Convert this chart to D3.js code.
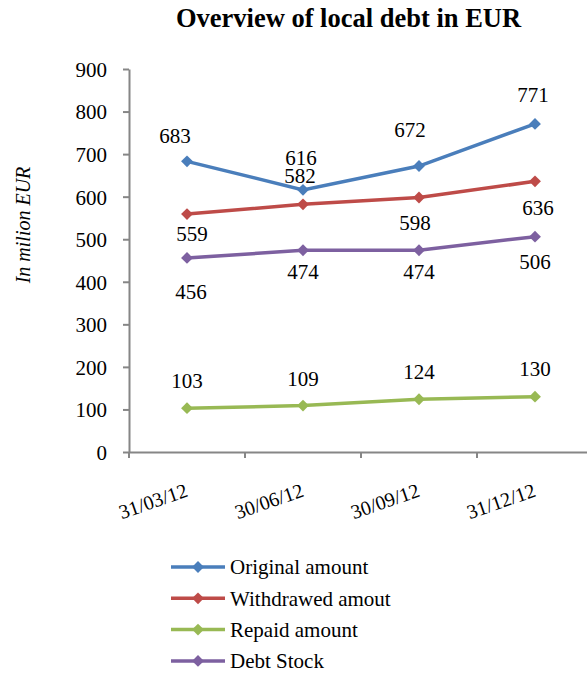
<!DOCTYPE html>
<meta charset="utf-8">
<style>
body { margin: 0; background: #fff; }
text { font-family: "Liberation Serif", "Times New Roman", serif; fill: #000; }
</style>
<body>
<script src="https://d3js.org/d3.v7.min.js"></script>
<script>

// chart data
var dates = ["31/03/12", "30/06/12", "30/09/12", "31/12/12"];
var seriesNames = ["Original amount", "Withdrawed amout", "Repaid amount", "Debt Stock"];
var original  = [683, 616, 672, 771];
var withdrawn = [559, 582, 598, 636];
var repaid    = [103, 109, 124, 130];
var debtStock = [456, 474, 474, 506];
var yTicks = [0, 100, 200, 300, 400, 500, 600, 700, 800, 900];

// where each value label sits relative to its point (px)
var labelDx = [
  [-12, -2, -9, -2],
  [5, -3, -4, 3],
  [0, 0, 0, 0],
  [4, 0, 0, 0]
];
var labelDy = [
  [-26, -32, -36, -29],
  [20, -29, 25, 26],
  [-28, -27, -28, -28],
  [34, 21, 21, 25]
];

var colors = ["#4A7EBB", "#BE4B48", "#98B954", "#7D60A0"];
var values = [original, withdrawn, repaid, debtStock];

var width = 587, height = 674;
var plotLeft = 129, plotRight = 593, plotTop = 69, plotBottom = 452;

var svg = d3.select("body").append("svg")
    .attr("width", width)
    .attr("height", height);

var x = d3.scaleBand()
    .domain(dates)
    .range([plotLeft, plotRight]);

var y = d3.scaleLinear()
    .domain([0, 900])
    .range([plotBottom, plotTop]);

/*
  Title
*/
svg.append("text")
    .attr("x", 348.5)
    .attr("y", 27)
    .attr("text-anchor", "middle")
    .style("font-size", "26.5px")
    .style("font-weight", "bold")
    .text("Overview of local debt in EUR");

/*
  Axes
*/
var yAxis = svg.append("g")
    .attr("transform", "translate(" + plotLeft + ",0)")
    .call(d3.axisLeft(y).tickValues(yTicks).tickSize(6).tickSizeOuter(0).tickPadding(16));

var xAxis = svg.append("g")
    .attr("transform", "translate(0," + plotBottom + ")")
    .call(d3.axisBottom(x).tickSize(0).tickSizeOuter(0).tickFormat(""));

[yAxis, xAxis].forEach(function(a) {
  a.select(".domain").attr("stroke", "#868686").attr("stroke-width", 2);
  a.selectAll(".tick line").attr("stroke", "#868686").attr("stroke-width", 2);
});

yAxis.selectAll(".tick text")
    .style("font-size", "21px")
    .style("font-family", "Liberation Serif, serif")
    .attr("dy", "0.35em");

// tick marks between categories
var bounds = dates.map(function(d) { return x(d); });
svg.append("g").selectAll("line")
    .data(bounds)
    .enter().append("line")
    .attr("x1", function(d) { return d; })
    .attr("x2", function(d) { return d; })
    .attr("y1", plotBottom)
    .attr("y2", plotBottom + 6)
    .attr("stroke", "#868686")
    .attr("stroke-width", 2);

// rotated category labels
svg.append("g").selectAll("text")
    .data(dates)
    .enter().append("text")
    .attr("transform", function(d) {
      return "translate(" + (x(d) + x.bandwidth() / 2 + 2) + "," + (plotBottom + 44) + ") rotate(-19)";
    })
    .attr("text-anchor", "end")
    .style("font-size", "20px")
    .text(function(d) { return d; });

// y axis title
svg.append("text")
    .attr("transform", "translate(30,225) rotate(-90)")
    .attr("text-anchor", "middle")
    .style("font-size", "20px")
    .style("font-style", "italic")
    .text("In milion EUR");

/*
  Lines, markers, labels
*/
var cx = function(i) { return x(dates[i]) + x.bandwidth() / 2; };

var line = d3.line()
    .x(function(d, i) { return cx(i); })
    .y(function(d) { return y(d); });

var marker = d3.symbol().type(d3.symbolSquare).size(70);

values.forEach(function(vals, s) {
  var g = svg.append("g");

  g.append("path")
      .datum(vals)
      .attr("d", line)
      .attr("fill", "none")
      .attr("stroke", colors[s])
      .attr("stroke-width", 3.5);

  g.selectAll(".marker")
      .data(vals)
      .enter().append("path")
      .attr("class", "marker")
      .attr("d", marker)
      .attr("transform", function(d, i) {
        return "translate(" + cx(i) + "," + y(d) + ") rotate(45)";
      })
      .attr("fill", colors[s]);
});

values.forEach(function(vals, s) {
  svg.append("g").selectAll("text")
      .data(vals)
      .enter().append("text")
      .attr("x", function(d, i) { return cx(i) + labelDx[s][i]; })
      .attr("y", function(d, i) { return y(d) + labelDy[s][i]; })
      .attr("dy", "0.35em")
      .attr("text-anchor", "middle")
      .style("font-size", "21px")
      .text(function(d) { return d; });
});

/*
  Legend
*/
var legend = svg.append("g").selectAll("g")
    .data(seriesNames)
    .enter().append("g")
    .attr("transform", function(d, i) { return "translate(171," + (567 + i * 31.3) + ")"; });

legend.append("line")
    .attr("x1", 0)
    .attr("x2", 54)
    .attr("stroke", function(d, i) { return colors[i]; })
    .attr("stroke-width", 3.5);

legend.append("path")
    .attr("d", marker)
    .attr("transform", "translate(27,0) rotate(45)")
    .attr("fill", function(d, i) { return colors[i]; });

legend.append("text")
    .attr("x", 59)
    .attr("dy", "0.35em")
    .style("font-size", "21px")
    .text(function(d) { return d; });

</script>
